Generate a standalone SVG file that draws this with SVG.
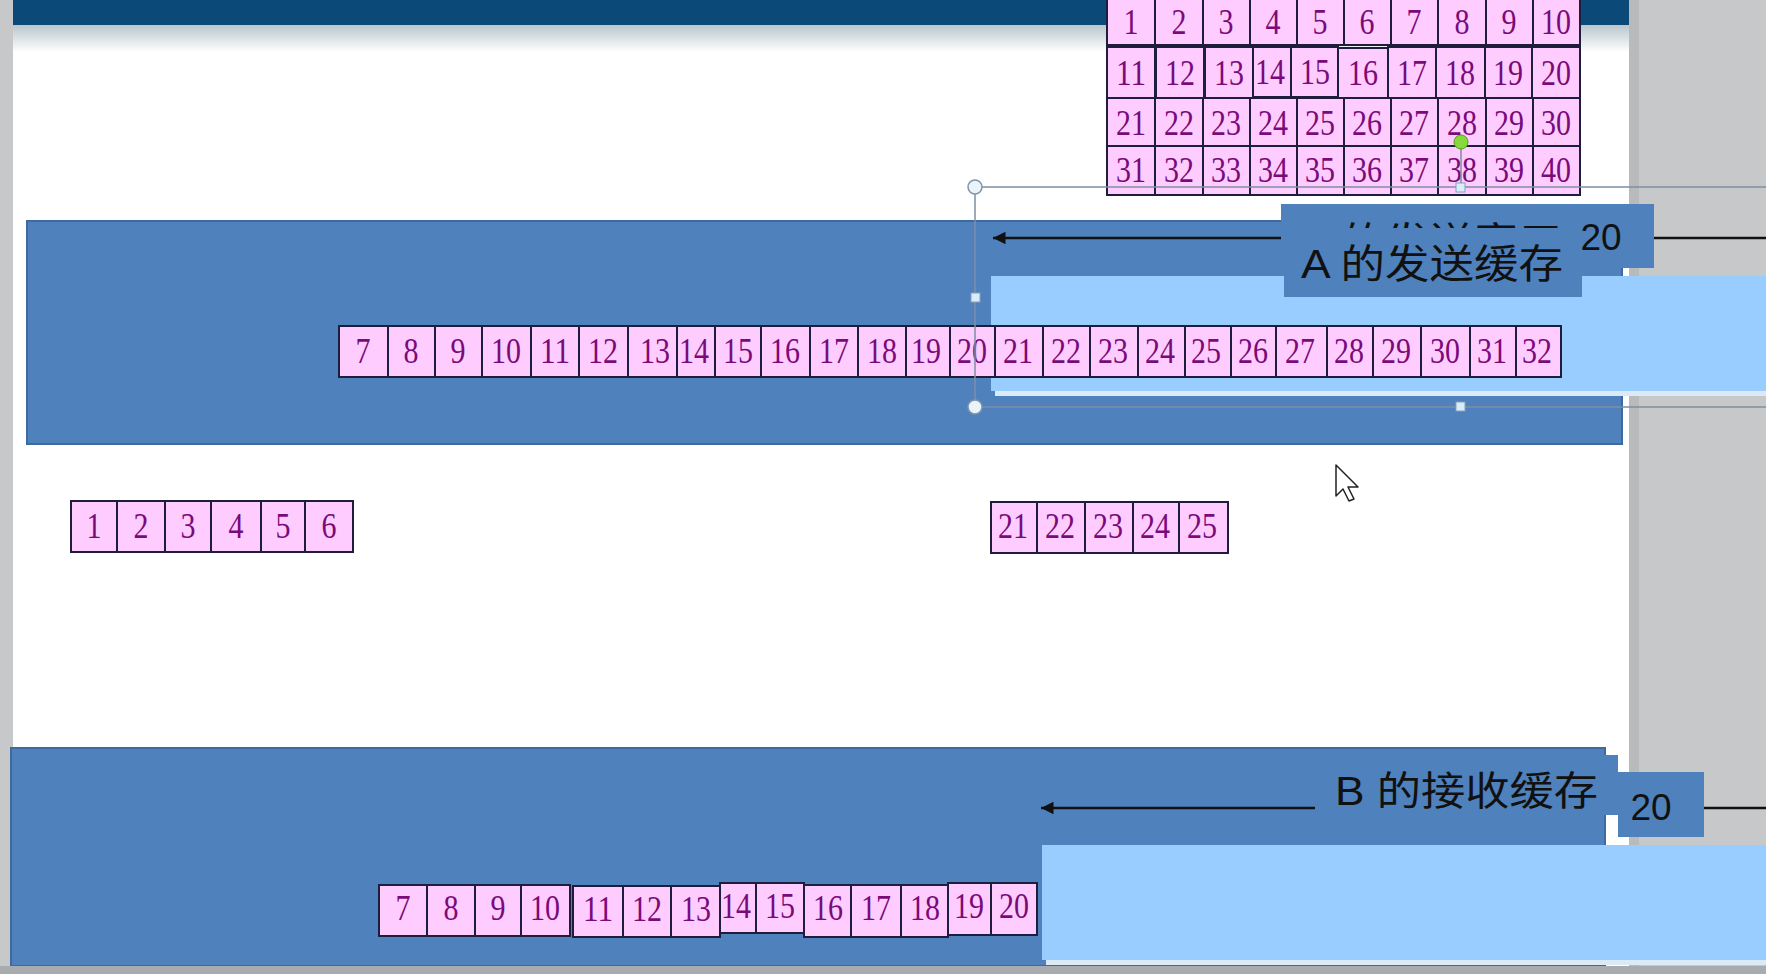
<svg xmlns="http://www.w3.org/2000/svg" width="1766" height="974" viewBox="0 0 1766 974">
<defs>
<linearGradient id="shade" x1="0" y1="0" x2="0" y2="1">
<stop offset="0" stop-color="#b9c6cc"/>
<stop offset="1" stop-color="#ffffff"/>
</linearGradient>
<marker id="ah" viewBox="0 0 10 10" refX="10" refY="5" markerWidth="5" markerHeight="5" orient="auto">
<path d="M0,0 L10,5 L0,10 z" fill="#111"/>
</marker>
<clipPath id="hideA">
<rect x="1281" y="204" width="373" height="24"/>
</clipPath>
<style>
.cell{fill:#ffccff;stroke:#1e1e3c;stroke-width:2}
.num{font-family:"Liberation Serif","Times New Roman",serif;font-size:36px;fill:#7a0a7a;text-anchor:middle}
.blue{fill:#4f81bd}
.lbl{font-family:"Liberation Sans","Noto Sans CJK SC",sans-serif;font-size:40px;fill:#111}
.n20{font-family:"Liberation Sans",Arial,sans-serif;font-size:37px;fill:#111;text-anchor:middle}
.sel{stroke:#7d8ea3;stroke-width:1.5;fill:none}
.hc{fill:#eaf2fa;stroke:#8095aa;stroke-width:1.5}
.hs{fill:#d8ecfb;stroke:#8aa0b5;stroke-width:1}
.ln{stroke:#111;stroke-width:2.5;fill:none}
</style>
</defs>

<!-- background -->
<rect x="0" y="0" width="1766" height="974" fill="#c6c8ca"/>
<rect x="13" y="0" width="1616" height="966" fill="#ffffff"/>
<rect x="1629" y="0" width="10" height="974" fill="#b8babc"/>
<rect x="13" y="0" width="1616" height="25" fill="#0b4a78"/>
<rect x="13" y="25" width="1616" height="27" fill="url(#shade)"/>

<!-- Buffer A -->
<g id="bufferA">
<rect class="blue" x="27" y="221" width="1595" height="223" stroke="#3d6b9f" stroke-width="2"/>
</g>
<g id="windowA">
<rect x="991" y="276" width="775" height="115" fill="#99ccff"/>
<rect x="995" y="391" width="771" height="5" fill="#dce9f6"/>
</g>

<!-- Buffer B -->
<g id="bufferB">
<rect class="blue" x="11" y="748" width="1594" height="218" stroke="#3d6b9f" stroke-width="2"/>
</g>
<g id="windowB">
<rect x="1042" y="845" width="724" height="115" fill="#99ccff"/>
<rect x="1046" y="960" width="720" height="5" fill="#dce9f6"/>
</g>

<!-- connectors -->
<g id="connectors">
<line class="ln" x1="1766" y1="238" x2="993" y2="238" marker-end="url(#ah)"/>
<line class="ln" x1="1766" y1="808" x2="1041" y2="808" marker-end="url(#ah)"/>
</g>

<!-- A window label box -->
<g id="labelA-window">
<rect class="blue" x="1281" y="204" width="373" height="64"/>
<text class="lbl" x="1301" y="256" textLength="262" lengthAdjust="spacingAndGlyphs" clip-path="url(#hideA)">A 的发送窗口</text>
<text class="n20" x="1601" y="250">20</text>
</g>
<g id="labelA-buffer">
<rect class="blue" x="1284" y="228" width="298" height="69"/>
<text class="lbl" x="1301" y="278" textLength="262" lengthAdjust="spacingAndGlyphs">A 的发送缓存</text>
</g>

<!-- B labels -->
<g id="labelB">
<rect class="blue" x="1315" y="755" width="303" height="60"/>
<text class="lbl" x="1335" y="805" textLength="263" lengthAdjust="spacingAndGlyphs">B 的接收缓存</text>
</g>
<g id="labelB-20">
<rect class="blue" x="1618" y="772" width="86" height="65"/>
<text class="n20" x="1651" y="820">20</text>
</g>

<!-- top grid 1..40 -->
<g id="grid40">
<rect class="cell" x="1107" y="-4" width="48" height="49"/><text class="num" x="1131" y="34" textLength="15" lengthAdjust="spacingAndGlyphs">1</text>
<rect class="cell" x="1155" y="-4" width="48" height="49"/><text class="num" x="1179" y="34" textLength="15" lengthAdjust="spacingAndGlyphs">2</text>
<rect class="cell" x="1203" y="-4" width="47" height="49"/><text class="num" x="1226" y="34" textLength="15" lengthAdjust="spacingAndGlyphs">3</text>
<rect class="cell" x="1250" y="-4" width="47" height="49"/><text class="num" x="1273" y="34" textLength="15" lengthAdjust="spacingAndGlyphs">4</text>
<rect class="cell" x="1297" y="-4" width="47" height="49"/><text class="num" x="1320" y="34" textLength="15" lengthAdjust="spacingAndGlyphs">5</text>
<rect class="cell" x="1344" y="-4" width="47" height="49"/><text class="num" x="1367" y="34" textLength="15" lengthAdjust="spacingAndGlyphs">6</text>
<rect class="cell" x="1391" y="-4" width="47" height="49"/><text class="num" x="1414" y="34" textLength="15" lengthAdjust="spacingAndGlyphs">7</text>
<rect class="cell" x="1438" y="-4" width="48" height="49"/><text class="num" x="1462" y="34" textLength="15" lengthAdjust="spacingAndGlyphs">8</text>
<rect class="cell" x="1486" y="-4" width="47" height="49"/><text class="num" x="1509" y="34" textLength="15" lengthAdjust="spacingAndGlyphs">9</text>
<rect class="cell" x="1533" y="-4" width="47" height="49"/><text class="num" x="1556" y="34" textLength="30" lengthAdjust="spacingAndGlyphs">10</text>

<rect class="cell" x="1107" y="47" width="48" height="51"/><text class="num" x="1131" y="85" textLength="30" lengthAdjust="spacingAndGlyphs">11</text>
<rect class="cell" x="1156" y="47" width="48" height="51"/><text class="num" x="1180" y="85" textLength="30" lengthAdjust="spacingAndGlyphs">12</text>
<rect class="cell" x="1205" y="47" width="48" height="52"/><text class="num" x="1229" y="85" textLength="30" lengthAdjust="spacingAndGlyphs">13</text>
<rect class="cell" x="1253" y="47" width="38" height="50"/><text class="num" x="1270" y="84" textLength="30" lengthAdjust="spacingAndGlyphs">14</text>
<rect class="cell" x="1291" y="47" width="47" height="50"/><text class="num" x="1315" y="84" textLength="30" lengthAdjust="spacingAndGlyphs">15</text>
<rect class="cell" x="1338" y="48" width="50" height="51"/><text class="num" x="1363" y="85" textLength="30" lengthAdjust="spacingAndGlyphs">16</text>
<rect class="cell" x="1388" y="47" width="48" height="52"/><text class="num" x="1412" y="85" textLength="30" lengthAdjust="spacingAndGlyphs">17</text>
<rect class="cell" x="1436" y="47" width="49" height="52"/><text class="num" x="1460" y="85" textLength="30" lengthAdjust="spacingAndGlyphs">18</text>
<rect class="cell" x="1485" y="47" width="47" height="51"/><text class="num" x="1508" y="85" textLength="30" lengthAdjust="spacingAndGlyphs">19</text>
<rect class="cell" x="1532" y="47" width="48" height="51"/><text class="num" x="1556" y="85" textLength="30" lengthAdjust="spacingAndGlyphs">20</text>

<rect class="cell" x="1107" y="98" width="48" height="48"/><text class="num" x="1131" y="135" textLength="30" lengthAdjust="spacingAndGlyphs">21</text>
<rect class="cell" x="1155" y="98" width="48" height="48"/><text class="num" x="1179" y="135" textLength="30" lengthAdjust="spacingAndGlyphs">22</text>
<rect class="cell" x="1203" y="98" width="47" height="48"/><text class="num" x="1226" y="135" textLength="30" lengthAdjust="spacingAndGlyphs">23</text>
<rect class="cell" x="1250" y="98" width="47" height="48"/><text class="num" x="1273" y="135" textLength="30" lengthAdjust="spacingAndGlyphs">24</text>
<rect class="cell" x="1297" y="98" width="47" height="48"/><text class="num" x="1320" y="135" textLength="30" lengthAdjust="spacingAndGlyphs">25</text>
<rect class="cell" x="1344" y="98" width="47" height="48"/><text class="num" x="1367" y="135" textLength="30" lengthAdjust="spacingAndGlyphs">26</text>
<rect class="cell" x="1391" y="98" width="47" height="48"/><text class="num" x="1414" y="135" textLength="30" lengthAdjust="spacingAndGlyphs">27</text>
<rect class="cell" x="1438" y="98" width="48" height="48"/><text class="num" x="1462" y="135" textLength="30" lengthAdjust="spacingAndGlyphs">28</text>
<rect class="cell" x="1486" y="98" width="47" height="48"/><text class="num" x="1509" y="135" textLength="30" lengthAdjust="spacingAndGlyphs">29</text>
<rect class="cell" x="1533" y="98" width="47" height="48"/><text class="num" x="1556" y="135" textLength="30" lengthAdjust="spacingAndGlyphs">30</text>

<rect class="cell" x="1107" y="146" width="48" height="49"/><text class="num" x="1131" y="182" textLength="30" lengthAdjust="spacingAndGlyphs">31</text>
<rect class="cell" x="1155" y="146" width="48" height="49"/><text class="num" x="1179" y="182" textLength="30" lengthAdjust="spacingAndGlyphs">32</text>
<rect class="cell" x="1203" y="146" width="47" height="49"/><text class="num" x="1226" y="182" textLength="30" lengthAdjust="spacingAndGlyphs">33</text>
<rect class="cell" x="1250" y="146" width="47" height="49"/><text class="num" x="1273" y="182" textLength="30" lengthAdjust="spacingAndGlyphs">34</text>
<rect class="cell" x="1297" y="146" width="47" height="49"/><text class="num" x="1320" y="182" textLength="30" lengthAdjust="spacingAndGlyphs">35</text>
<rect class="cell" x="1344" y="146" width="47" height="49"/><text class="num" x="1367" y="182" textLength="30" lengthAdjust="spacingAndGlyphs">36</text>
<rect class="cell" x="1391" y="146" width="47" height="49"/><text class="num" x="1414" y="182" textLength="30" lengthAdjust="spacingAndGlyphs">37</text>
<rect class="cell" x="1438" y="146" width="48" height="49"/><text class="num" x="1462" y="182" textLength="30" lengthAdjust="spacingAndGlyphs">38</text>
<rect class="cell" x="1486" y="146" width="47" height="49"/><text class="num" x="1509" y="182" textLength="30" lengthAdjust="spacingAndGlyphs">39</text>
<rect class="cell" x="1533" y="146" width="47" height="49"/><text class="num" x="1556" y="182" textLength="30" lengthAdjust="spacingAndGlyphs">40</text>
</g>

<!-- A row 7..32 -->
<g id="rowA">
<rect class="cell" x="339" y="326" width="49" height="51"/><text class="num" x="363" y="363" textLength="15" lengthAdjust="spacingAndGlyphs">7</text>
<rect class="cell" x="388" y="326" width="47" height="51"/><text class="num" x="411" y="363" textLength="15" lengthAdjust="spacingAndGlyphs">8</text>
<rect class="cell" x="435" y="326" width="47" height="51"/><text class="num" x="458" y="363" textLength="15" lengthAdjust="spacingAndGlyphs">9</text>
<rect class="cell" x="482" y="326" width="49" height="51"/><text class="num" x="506" y="363" textLength="30" lengthAdjust="spacingAndGlyphs">10</text>
<rect class="cell" x="531" y="326" width="48" height="51"/><text class="num" x="555" y="363" textLength="30" lengthAdjust="spacingAndGlyphs">11</text>
<rect class="cell" x="579" y="326" width="49" height="51"/><text class="num" x="603" y="363" textLength="30" lengthAdjust="spacingAndGlyphs">12</text>
<rect class="cell" x="628" y="326" width="49" height="51"/><text class="num" x="655" y="363" textLength="30" lengthAdjust="spacingAndGlyphs">13</text>
<rect class="cell" x="677" y="326" width="38" height="51"/><text class="num" x="694" y="363" textLength="30" lengthAdjust="spacingAndGlyphs">14</text>
<rect class="cell" x="715" y="326" width="46" height="51"/><text class="num" x="738" y="363" textLength="30" lengthAdjust="spacingAndGlyphs">15</text>
<rect class="cell" x="761" y="326" width="49" height="51"/><text class="num" x="785" y="363" textLength="30" lengthAdjust="spacingAndGlyphs">16</text>
<rect class="cell" x="810" y="326" width="48" height="51"/><text class="num" x="834" y="363" textLength="30" lengthAdjust="spacingAndGlyphs">17</text>
<rect class="cell" x="858" y="326" width="48" height="51"/><text class="num" x="882" y="363" textLength="30" lengthAdjust="spacingAndGlyphs">18</text>
<rect class="cell" x="906" y="326" width="44" height="51"/><text class="num" x="926" y="363" textLength="30" lengthAdjust="spacingAndGlyphs">19</text>
<rect class="cell" x="950" y="326" width="45" height="51"/><text class="num" x="972" y="363" textLength="30" lengthAdjust="spacingAndGlyphs">20</text>
<rect class="cell" x="995" y="326" width="48" height="51"/><text class="num" x="1018" y="363" textLength="30" lengthAdjust="spacingAndGlyphs">21</text>
<rect class="cell" x="1043" y="326" width="47" height="51"/><text class="num" x="1066" y="363" textLength="30" lengthAdjust="spacingAndGlyphs">22</text>
<rect class="cell" x="1090" y="326" width="48" height="51"/><text class="num" x="1113" y="363" textLength="30" lengthAdjust="spacingAndGlyphs">23</text>
<rect class="cell" x="1138" y="326" width="47" height="51"/><text class="num" x="1160" y="363" textLength="30" lengthAdjust="spacingAndGlyphs">24</text>
<rect class="cell" x="1185" y="326" width="46" height="51"/><text class="num" x="1206" y="363" textLength="30" lengthAdjust="spacingAndGlyphs">25</text>
<rect class="cell" x="1231" y="326" width="45" height="51"/><text class="num" x="1253" y="363" textLength="30" lengthAdjust="spacingAndGlyphs">26</text>
<rect class="cell" x="1276" y="326" width="51" height="51"/><text class="num" x="1300" y="363" textLength="30" lengthAdjust="spacingAndGlyphs">27</text>
<rect class="cell" x="1327" y="326" width="46" height="51"/><text class="num" x="1349" y="363" textLength="30" lengthAdjust="spacingAndGlyphs">28</text>
<rect class="cell" x="1373" y="326" width="48" height="51"/><text class="num" x="1396" y="363" textLength="30" lengthAdjust="spacingAndGlyphs">29</text>
<rect class="cell" x="1421" y="326" width="49" height="51"/><text class="num" x="1445" y="363" textLength="30" lengthAdjust="spacingAndGlyphs">30</text>
<rect class="cell" x="1470" y="326" width="46" height="51"/><text class="num" x="1492" y="363" textLength="30" lengthAdjust="spacingAndGlyphs">31</text>
<rect class="cell" x="1516" y="326" width="45" height="51"/><text class="num" x="1537" y="363" textLength="30" lengthAdjust="spacingAndGlyphs">32</text>
</g>

<!-- cells 1..6 -->
<g id="row1to6">
<rect class="cell" x="71" y="501" width="46" height="51"/><text class="num" x="94" y="538" textLength="15" lengthAdjust="spacingAndGlyphs">1</text>
<rect class="cell" x="117" y="501" width="48" height="51"/><text class="num" x="141" y="538" textLength="15" lengthAdjust="spacingAndGlyphs">2</text>
<rect class="cell" x="165" y="501" width="46" height="51"/><text class="num" x="188" y="538" textLength="15" lengthAdjust="spacingAndGlyphs">3</text>
<rect class="cell" x="211" y="501" width="50" height="51"/><text class="num" x="236" y="538" textLength="15" lengthAdjust="spacingAndGlyphs">4</text>
<rect class="cell" x="261" y="501" width="44" height="51"/><text class="num" x="283" y="538" textLength="15" lengthAdjust="spacingAndGlyphs">5</text>
<rect class="cell" x="305" y="501" width="48" height="51"/><text class="num" x="329" y="538" textLength="15" lengthAdjust="spacingAndGlyphs">6</text>
</g>

<!-- cells 21..25 -->
<g id="row21to25">
<rect class="cell" x="991" y="502" width="46" height="51"/><text class="num" x="1013" y="538" textLength="30" lengthAdjust="spacingAndGlyphs">21</text>
<rect class="cell" x="1037" y="502" width="48" height="51"/><text class="num" x="1060" y="538" textLength="30" lengthAdjust="spacingAndGlyphs">22</text>
<rect class="cell" x="1085" y="502" width="48" height="51"/><text class="num" x="1108" y="538" textLength="30" lengthAdjust="spacingAndGlyphs">23</text>
<rect class="cell" x="1133" y="502" width="46" height="51"/><text class="num" x="1155" y="538" textLength="30" lengthAdjust="spacingAndGlyphs">24</text>
<rect class="cell" x="1179" y="502" width="49" height="51"/><text class="num" x="1202" y="538" textLength="30" lengthAdjust="spacingAndGlyphs">25</text>
</g>

<!-- B row 7..20 -->
<g id="rowB">
<rect class="cell" x="379" y="885" width="48" height="51"/><text class="num" x="403" y="920" textLength="15" lengthAdjust="spacingAndGlyphs">7</text>
<rect class="cell" x="427" y="885" width="48" height="51"/><text class="num" x="451" y="920" textLength="15" lengthAdjust="spacingAndGlyphs">8</text>
<rect class="cell" x="475" y="885" width="46" height="51"/><text class="num" x="498" y="920" textLength="15" lengthAdjust="spacingAndGlyphs">9</text>
<rect class="cell" x="521" y="885" width="49" height="51"/><text class="num" x="545" y="920" textLength="30" lengthAdjust="spacingAndGlyphs">10</text>
<rect class="cell" x="573" y="886" width="50" height="51"/><text class="num" x="598" y="921" textLength="30" lengthAdjust="spacingAndGlyphs">11</text>
<rect class="cell" x="623" y="886" width="48" height="51"/><text class="num" x="647" y="921" textLength="30" lengthAdjust="spacingAndGlyphs">12</text>
<rect class="cell" x="671" y="886" width="49" height="51"/><text class="num" x="696" y="921" textLength="30" lengthAdjust="spacingAndGlyphs">13</text>
<rect class="cell" x="720" y="883" width="36" height="50"/><text class="num" x="736" y="918" textLength="30" lengthAdjust="spacingAndGlyphs">14</text>
<rect class="cell" x="756" y="883" width="48" height="50"/><text class="num" x="780" y="918" textLength="30" lengthAdjust="spacingAndGlyphs">15</text>
<rect class="cell" x="804" y="885" width="47" height="52"/><text class="num" x="828" y="920" textLength="30" lengthAdjust="spacingAndGlyphs">16</text>
<rect class="cell" x="851" y="885" width="50" height="52"/><text class="num" x="876" y="920" textLength="30" lengthAdjust="spacingAndGlyphs">17</text>
<rect class="cell" x="901" y="885" width="47" height="52"/><text class="num" x="925" y="920" textLength="30" lengthAdjust="spacingAndGlyphs">18</text>
<rect class="cell" x="948" y="883" width="43" height="52"/><text class="num" x="969" y="918" textLength="30" lengthAdjust="spacingAndGlyphs">19</text>
<rect class="cell" x="991" y="883" width="46" height="52"/><text class="num" x="1014" y="918" textLength="30" lengthAdjust="spacingAndGlyphs">20</text>
</g>

<!-- bottom edge of view -->
<rect x="0" y="966" width="1766" height="8" fill="#a9acaf"/>

<!-- selection frame -->
<g id="selection">
<path class="sel" d="M1766,187 H975 V407 H1766"/>
<line class="sel" x1="1461" y1="142" x2="1461" y2="187"/>
<circle class="hc" cx="975" cy="187" r="7"/>
<circle class="hc" cx="975" cy="407" r="7"/>
<rect class="hs" x="971" y="293" width="9" height="9"/>
<rect class="hs" x="1456" y="183" width="9" height="9"/>
<rect class="hs" x="1456" y="402" width="9" height="9"/>
<circle cx="1461" cy="142" r="7" fill="#86d93a" stroke="#5a9a20" stroke-width="1"/>
</g>

<!-- mouse pointer -->
<g id="cursor">
<path d="M1336,465 L1336,496 L1343,489 L1349,501 L1354,499 L1348,487 L1358,487 Z" fill="#ffffff" stroke="#222" stroke-width="1.5" stroke-linejoin="round"/>
</g>
</svg>
